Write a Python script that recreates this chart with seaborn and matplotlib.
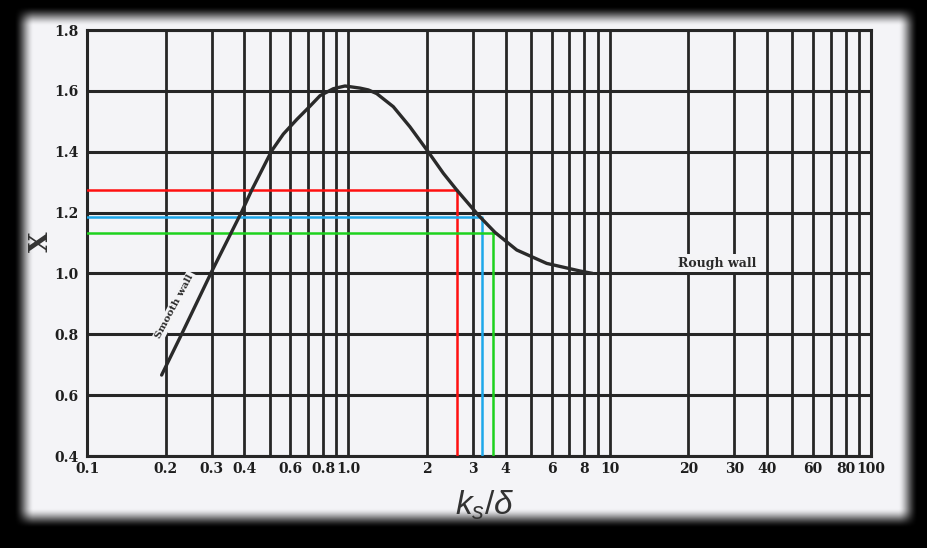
import numpy as np
import pandas as pd
import matplotlib
matplotlib.use("Agg")
import matplotlib.pyplot as plt
import seaborn as sns

# ---------------- data ----------------
curve_x = [0.193, 0.231, 0.30, 0.391, 0.427, 0.509, 0.564, 0.635, 0.714, 0.779, 0.876, 0.971,
           1.109, 1.193, 1.284, 1.486, 1.72, 2.02, 2.31, 2.60, 3.14, 3.64, 4.41, 5.74, 7.7, 8.6]
curve_y = [0.666, 0.803, 1.006, 1.203, 1.274, 1.403, 1.458, 1.506, 1.550, 1.584, 1.607, 1.616,
           1.609, 1.603, 1.591, 1.548, 1.482, 1.400, 1.329, 1.274, 1.192, 1.135, 1.077, 1.033, 1.008, 1.0]

red_x = [0.1, 2.61, 2.61]
red_y = [1.274, 1.274, 0.4]
blue_x = [0.1, 3.24, 3.24]
blue_y = [1.184, 1.184, 0.4]
green_x = [0.1, 3.63, 3.57, 3.57]
green_y = [1.133, 1.133, 1.133, 0.4]

x_major = [0.1, 0.2, 0.3, 0.4, 0.6, 0.8, 1.0, 2, 3, 4, 6, 8, 10, 20, 30, 40, 60, 80, 100]
x_labels = ["0.1", "0.2", "0.3", "0.4", "0.6", "0.8", "1.0", "2", "3", "4", "6", "8", "10",
            "20", "30", "40", "60", "80", "100"]
x_minor = [0.5, 0.7, 0.9, 5, 7, 9, 50, 70, 90]
y_ticks = [0.4, 0.6, 0.8, 1.0, 1.2, 1.4, 1.6, 1.8]
y_labels = ["0.4", "0.6", "0.8", "1.0", "1.2", "1.4", "1.6", "1.8"]

# ---------------- style ----------------
sns.set_theme(style="white")
plt.rcParams["font.family"] = ["DejaVu Serif", "Liberation Serif"]
plt.rcParams["mathtext.fontset"] = "custom"
plt.rcParams["mathtext.it"] = "Liberation Sans:italic"
plt.rcParams["mathtext.rm"] = "Liberation Sans"

W, H = 928, 548
fig = plt.figure(figsize=(W / 100, H / 100), dpi=100, facecolor="black")

# vignette frame (decoration)
bg = fig.add_axes([0, 0, 1, 1])
bg.axis("off")
xx = np.arange(W)[None, :] + 0.5
yy = np.arange(H)[:, None] + 0.5
def ramp(d, w):
    t = np.clip(d / w, 0, 1)
    return t * t * (3 - 2 * t)
fx = ramp(np.minimum(xx - 14, 918 - xx), 20)
fy = ramp(np.minimum(yy - 6, 528 - yy), 20)
b = fx * fy
paper = np.array([0.957, 0.957, 0.970])
img = b[..., None] * paper[None, None, :]
bg.imshow(img, extent=(0, W, H, 0), aspect="auto", interpolation="bilinear")
bg.set_xlim(0, W)
bg.set_ylim(H, 0)

ax = fig.add_axes([87 / W, 1 - 456 / H, 784 / W, 426 / H])
ax.set_facecolor("none")
ax.set_xscale("log")
ax.set_xlim(0.1, 100)
ax.set_ylim(0.4, 1.8)

ax.set_xticks(x_major)
ax.set_xticklabels(x_labels)
ax.set_xticks(x_minor, minor=True)
ax.set_xticklabels([], minor=True)
ax.set_yticks(y_ticks)
ax.set_yticklabels(y_labels)
ax.tick_params(axis="both", which="both", length=0)
ax.tick_params(axis="x", pad=4, labelsize=10, colors="#1e1e1e")
ax.tick_params(axis="y", pad=6, labelsize=10, colors="#1e1e1e")
for lab in ax.get_xticklabels() + ax.get_yticklabels():
    lab.set_fontweight("bold")

ax.grid(True, which="both", axis="x", color="#262626", linewidth=2.0, zorder=1)
ax.grid(True, which="major", axis="y", color="#262626", linewidth=2.2, zorder=1)
ax.set_axisbelow(True)
for s in ax.spines.values():
    s.set_color("#262626")
    s.set_linewidth(2.2)

# colored reference lines
sns.lineplot(x=red_x, y=red_y, sort=False, estimator=None, color="#ff1010",
             linewidth=1.8, ax=ax, zorder=3)
sns.lineplot(x=blue_x, y=blue_y, sort=False, estimator=None, color="#1ea8ea",
             linewidth=1.8, ax=ax, zorder=3)
sns.lineplot(x=green_x, y=green_y, sort=False, estimator=None, color="#1ed21e",
             linewidth=1.8, ax=ax, zorder=3)

# main curve
sns.lineplot(x=curve_x, y=curve_y, sort=False, estimator=None, color="#2a2a2a",
             linewidth=2.4, ax=ax, zorder=4)
ax.lines[-1].set_solid_joinstyle("round")

ax.text(0.217, 0.893, "Smooth wall", rotation=62, ha="center", va="center",
        fontsize=7.5, fontweight="bold", color="#2a2a2a", zorder=2,
        bbox=dict(boxstyle="square,pad=0.15", facecolor="#f4f4f6", edgecolor="none"))
ax.text(25.8, 1.034, "Rough wall", ha="center", va="center",
        fontsize=9, fontweight="bold", color="#2a2a2a", zorder=2,
        bbox=dict(boxstyle="square,pad=0.2", facecolor="#f4f4f6", edgecolor="none"))

ax.set_xlabel("")
ax.set_ylabel("")
fig.text(485 / W, 1 - 505 / H, r"$k_s/\delta$", ha="center", va="center",
         fontsize=24, color="#333333")
fig.text(40 / W, 1 - 242 / H, "X", rotation=90, ha="center", va="center",
         fontsize=19, fontweight="bold", color="#333333")

fig.savefig("out.png", dpi=100, facecolor="black")
